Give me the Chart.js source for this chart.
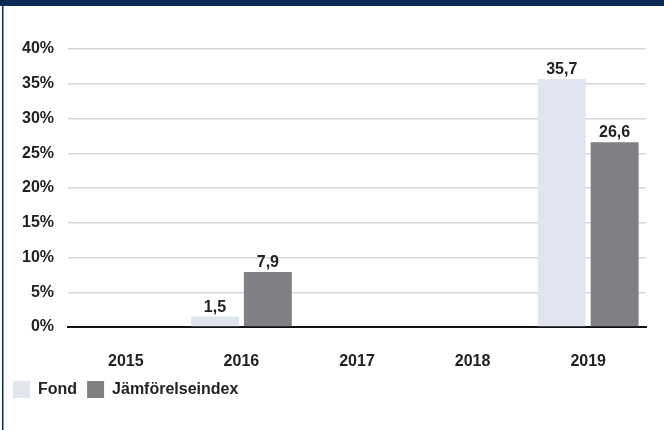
<!DOCTYPE html>
<html>
<head>
<meta charset="utf-8">
<script src="https://cdn.jsdelivr.net/npm/chart.js@4/dist/chart.umd.min.js"></script>
<style>
  html, body { margin: 0; padding: 0; background: #fff; }
  #wrap { width: 664px; height: 430px; position: relative; }
</style>
</head>
<body>
<div id="wrap"><canvas id="chart"></canvas></div>
<script>
const YEARS = ["2015", "2016", "2017", "2018", "2019"];
const FOND = [null, 1.5, null, null, 35.7];
const INDEX = [null, 7.9, null, null, 26.6];
const SERIES_NAMES = ["Fond", "Jämförelseindex"];

const NAVY = "#0a2b57";
const TEXT = "#222222";
const FONT = { family: "'Liberation Sans', Arial, sans-serif", size: 16, weight: "bold" };

// frame: navy top band and thin left line
const framePlugin = {
  id: "frame",
  beforeDraw(chart) {
    const ctx = chart.ctx;
    ctx.save();
    ctx.fillStyle = "#fff";
    ctx.fillRect(0, 0, chart.width, chart.height);
    ctx.fillStyle = NAVY;
    ctx.fillRect(0, 0, chart.width, 6);
    ctx.fillRect(2, 0, 1.5, chart.height);
    ctx.restore();
  },
  // legend sits a bit further left than the y axis padding
  afterLayout(chart) {
    if (chart.legend) {
      chart.legend.left -= 5;
      chart.legend.right -= 5;
    }
  },
};

// value labels above bars, comma decimals
const valueLabels = {
  id: "valueLabels",
  afterDatasetsDraw(chart) {
    const ctx = chart.ctx;
    ctx.save();
    ctx.font = "bold 16px 'Liberation Sans', Arial, sans-serif";
    ctx.fillStyle = TEXT;
    ctx.textAlign = "center";
    ctx.textBaseline = "alphabetic";
    chart.data.datasets.forEach((ds, i) => {
      chart.getDatasetMeta(i).data.forEach((bar, j) => {
        const v = ds.data[j];
        if (v === null) return;
        ctx.fillText(v.toFixed(1).replace(".", ","), bar.x, bar.y - 5);
      });
    });
    ctx.restore();
  },
};

new Chart(document.getElementById("chart"), {
  type: "bar",
  data: {
    labels: YEARS,
    datasets: [
      {
        label: SERIES_NAMES[0],
        data: FOND,
        backgroundColor: "#e0e5ef",
        barPercentage: 0.906,
        categoryPercentage: 0.915,
      },
      {
        label: SERIES_NAMES[1],
        data: INDEX,
        backgroundColor: "#808084",
        barPercentage: 0.906,
        categoryPercentage: 0.915,
      },
    ],
  },
  options: {
    responsive: true,
    maintainAspectRatio: false,
    animation: false,
    layout: { padding: { top: 49, left: 8, right: 18, bottom: 22 } },
    plugins: {
      tooltip: { enabled: false },
      legend: {
        position: "bottom",
        align: "start",
        labels: {
          boxWidth: 17,
          boxHeight: 17,
          padding: 10,
          color: TEXT,
          font: FONT,
        },
      },
    },
    scales: {
      x: {
        grid: { display: false },
        border: { display: true, color: "#111", width: 2 },
        ticks: { color: TEXT, font: FONT, padding: 17 },
        afterFit(scale) {
          scale.height = 44;
        },
      },
      y: {
        min: 0,
        max: 40,
        border: { display: false },
        grid: {
          drawTicks: false,
          lineWidth: 1.5,
          color: (c) => (c.tick && c.tick.value === 0 ? "rgba(0,0,0,0)" : "#d6d6d6"),
        },
        ticks: {
          stepSize: 5,
          padding: 14,
          color: TEXT,
          font: FONT,
          callback: (v) => v + "%",
        },
      },
    },
  },
  plugins: [framePlugin, valueLabels],
});
</script>
</body>
</html>
